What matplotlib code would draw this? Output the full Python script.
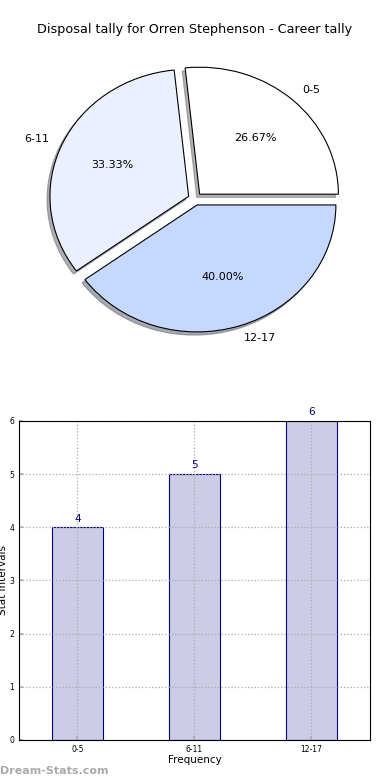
import matplotlib
matplotlib.use("Agg")
import matplotlib.pyplot as plt

title = "Disposal tally for Orren Stephenson - Career tally"
categories = ["0-5", "6-11", "12-17"]
counts = [4, 5, 6]
pie_colors = ["#ffffff", "#eaf0ff", "#c5d8ff"]

fig = plt.figure(figsize=(3.9, 7.8), dpi=100)

# Pie
axp = fig.add_axes([0.066, 0.548, 0.868, 0.394])
wedges, texts, autotexts = axp.pie(
    counts, labels=categories, colors=pie_colors, autopct="%.2f%%",
    explode=[0.05] * len(counts),
    shadow=dict(ox=-0.015, oy=-0.018, shade=0.6), startangle=0,
    wedgeprops=dict(edgecolor="black", linewidth=0.8),
    textprops=dict(fontsize=8), normalize=True)
axp.set_aspect("auto")
axp.set_xlim(-1.22, 1.22)
axp.set_ylim(-1.21, 1.21)
axp.axis("off")
fig.text(0.5, 1 - 30 / 780, title, ha="center", va="center", fontsize=9.2)

# Bars
axb = fig.add_axes([0.0487, 0.0513, 0.9, 0.409])
x = list(range(len(categories)))
axb.bar(x, counts, width=0.44, color="#ccccе6".replace("е", "e"), edgecolor="#000080", linewidth=0.8)
for xi, v in zip(x, counts):
    axb.text(xi, v + 0.07, str(v), ha="center", va="bottom", fontsize=7.5, color="#000080")
axb.set_xlim(-0.5, 2.5)
axb.set_ylim(0, 6)
axb.set_xticks(x)
axb.set_xticklabels(categories)
axb.set_yticks(range(0, 7))
axb.tick_params(axis="both", labelsize=5.5, direction="in", color="#aaaaaa", length=3, width=1.2)
axb.grid(True, linestyle=":", color="#aaaaaa", linewidth=0.9)
axb.set_axisbelow(False)
axb.set_xlabel("Frequency", fontsize=7.5, labelpad=1)
axb.set_ylabel("Stat Intervals", fontsize=7.5, labelpad=1)
for s in axb.spines.values():
    s.set_linewidth(0.8)
    s.set_zorder(5)

fig.text(0.0, 1 - 771 / 780, "Dream-Stats.com", ha="left", va="center",
         fontsize=8, color="#aaaaaa", fontweight="bold")

fig.savefig("out.png", dpi=100)
